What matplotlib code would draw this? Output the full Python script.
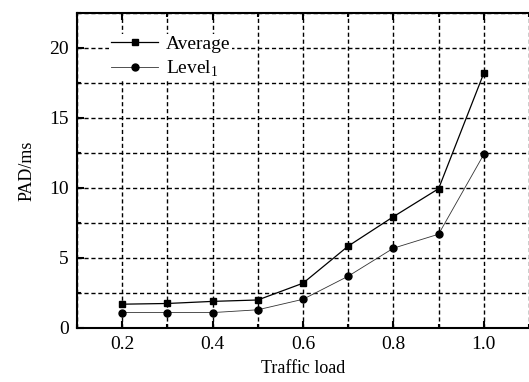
import numpy as np
import matplotlib
matplotlib.use('Agg')
import matplotlib.pyplot as plt
from matplotlib.ticker import MultipleLocator

plt.rcParams['font.family'] = ['Liberation Serif', 'DejaVu Serif']
plt.rcParams['mathtext.fontset'] = 'custom'
plt.rcParams['mathtext.rm'] = 'Liberation Serif'

# data
traffic_load = [0.2, 0.3, 0.4, 0.5, 0.6, 0.7, 0.8, 0.9, 1.0]
pad_average = [1.7, 1.75, 1.9, 2.0, 3.2, 5.85, 7.95, 9.95, 18.2]
pad_level1 = [1.1, 1.1, 1.1, 1.3, 2.05, 3.7, 5.7, 6.7, 12.4]

fig = plt.figure(figsize=(5.29, 3.82), dpi=100)
ax = fig.add_axes([0.1456, 0.1414, 0.8544, 0.8246])

ax.plot(traffic_load, pad_average, color='black', lw=0.9, marker='s',
        markersize=4.5, label='Average', zorder=3)
ax.plot(traffic_load, pad_level1, color='#333333', lw=0.6, marker='o',
        markersize=5, markerfacecolor='black', markeredgecolor='black',
        label=r'Level$_\mathregular{1}$', zorder=3)

ax.set_xlim(0.1, 1.1)
ax.set_ylim(0, 22.5)
ax.xaxis.set_major_locator(MultipleLocator(0.2))
ax.xaxis.set_minor_locator(MultipleLocator(0.1))
ax.yaxis.set_major_locator(MultipleLocator(5))
ax.yaxis.set_minor_locator(MultipleLocator(2.5))
ax.set_xticks([0.2, 0.4, 0.6, 0.8, 1.0])
ax.set_xticklabels(['0.2', '0.4', '0.6', '0.8', '1.0'])

ax.grid(True, which='both', color='black', linestyle=(0, (3, 2)), linewidth=1.0)
ax.set_axisbelow(True)

ax.tick_params(which='both', direction='in', top=True, right=False,
               labelsize=14, width=1.5, pad=6)
ax.tick_params(which='major', length=5)
ax.tick_params(which='minor', length=3)

for side in ['left', 'bottom', 'top']:
    ax.spines[side].set_linewidth(1.5)
ax.spines['right'].set_visible(False)

ax.set_xlabel('Traffic load', fontsize=13, labelpad=5)
ax.set_ylabel('PAD/ms', fontsize=13, labelpad=10)

leg = ax.legend(loc='upper left', bbox_to_anchor=(0.05, 0.965), frameon=True,
                fontsize=14, handlelength=2.4, borderpad=0.1, labelspacing=0.3,
                handletextpad=0.4, fancybox=False)
leg.get_frame().set_edgecolor('none')
leg.get_frame().set_facecolor('white')
leg.get_frame().set_alpha(1)

fig.savefig('out.png', dpi=100)
